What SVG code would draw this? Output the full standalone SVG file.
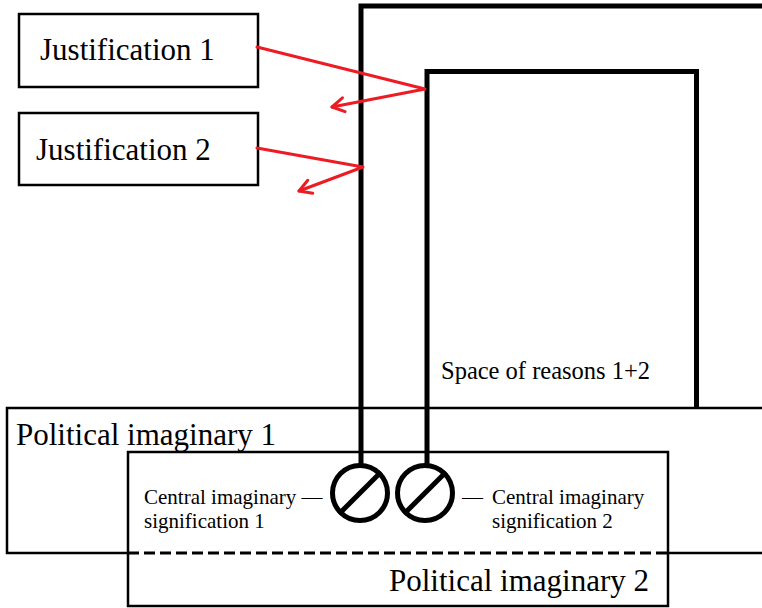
<svg xmlns="http://www.w3.org/2000/svg" width="762" height="608" viewBox="0 0 762 608">
<style>
  .box { fill: none; stroke: #000; stroke-width: 2.5; }
  .thick { fill: none; stroke: #000; stroke-width: 5; stroke-linejoin: miter; }
  .red { fill: none; stroke: #ed1c24; stroke-width: 3; stroke-linejoin: round; stroke-linecap: round; }
  .big { font-family: "Liberation Serif", "Times New Roman", serif; font-size: 31px; fill: #000; }
  .mid { font-family: "Liberation Serif", "Times New Roman", serif; font-size: 24.5px; fill: #000; }
  .small { font-family: "Liberation Serif", "Times New Roman", serif; font-size: 21px; fill: #000; }
  .csig { fill: #fff; stroke: #000; stroke-width: 5; }
</style>
<defs>
  <marker id="openArrow" markerUnits="userSpaceOnUse" markerWidth="30" markerHeight="30" refX="0" refY="0" viewBox="-15 -15 30 30" orient="auto" overflow="visible">
    <path d="M-12,-7 L0,0 L-12,7" fill="none" stroke="#ed1c24" stroke-width="3" stroke-linecap="round" stroke-linejoin="round"/>
  </marker>
</defs>
<rect width="762" height="608" fill="#fff"/>

<g id="political-imaginary-1">
  <path class="box" d="M765,408 H7 V553 H128 M668,553 H765"/>
  <path d="M128,553 H668" fill="none" stroke="#000" stroke-width="3" stroke-dasharray="11 5"/>
  <text class="big" x="16" y="445">Political imaginary 1</text>
</g>

<g id="political-imaginary-2">
  <rect class="box" x="128" y="452" width="540" height="154"/>
  <text class="big" x="389" y="591">Political imaginary 2</text>
</g>

<g id="space-of-reasons-1">
  <path class="thick" d="M361,465 V6 H766"/>
</g>

<g id="space-of-reasons-1-2">
  <path class="thick" d="M427,465 V71.5 H696.5 V408"/>
  <text class="mid" x="441" y="379">Space of reasons 1+2</text>
</g>

<g id="justification-1">
  <rect class="box" x="19" y="14" width="239" height="73" stroke-width="2"/>
  <text class="big" x="40" y="60">Justification 1</text>
</g>

<g id="justification-2">
  <rect class="box" x="19" y="113" width="239" height="72" stroke-width="2"/>
  <text class="big" x="36" y="160">Justification 2</text>
</g>

<g id="central-imaginary-signification-1">
  <circle class="csig" cx="360" cy="493" r="27.5"/>
  <line x1="339" y1="514" x2="381" y2="472" stroke="#000" stroke-width="5"/>
  <text class="small" x="144" y="504">Central imaginary —</text>
  <text class="small" x="144" y="528">signification 1</text>
</g>

<g id="central-imaginary-signification-2">
  <circle class="csig" cx="425" cy="493" r="27.5"/>
  <line x1="404" y1="514" x2="446" y2="472" stroke="#000" stroke-width="5"/>
  <text class="small" x="462" y="504">— <tspan x="492">Central imaginary</tspan></text>
  <text class="small" x="492" y="528">signification 2</text>
</g>

<g id="connectors">
  <path class="red" d="M257,47 L425,89 L332,107" marker-end="url(#openArrow)"/>
  <path class="red" d="M257,148 L363,167 L299,191" marker-end="url(#openArrow)"/>
</g>
</svg>
